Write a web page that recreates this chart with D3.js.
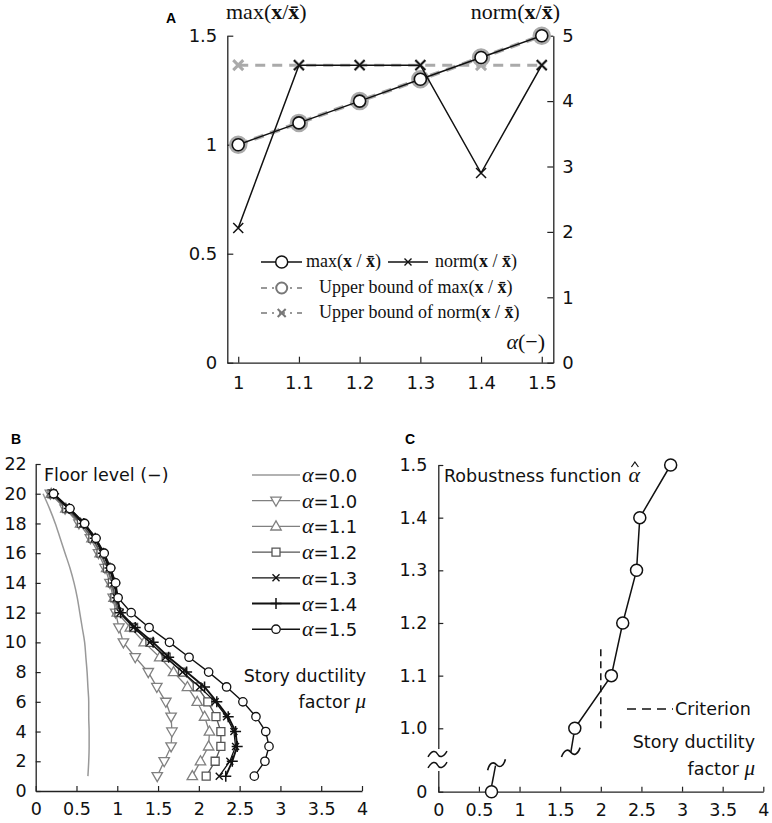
<!DOCTYPE html>
<html><head><meta charset="utf-8">
<script src="https://cdn.jsdelivr.net/npm/d3@7"></script>
<style>body{margin:0;background:#fff} svg{display:block}</style>
</head><body><svg id="c" width="772" height="823"></svg>
<script>
// ---------------- DATA ----------------
// Panel A
const alphaA = [1.0, 1.1, 1.2, 1.3, 1.4, 1.5];
const maxRatio = [1.0, 1.1, 1.2, 1.3, 1.4, 1.5];
const maxRatioUpper = [1.0, 1.1, 1.2, 1.3, 1.4, 1.5];
const normRatio = [2.06, 4.55, 4.55, 4.55, 2.9, 4.55];
const normRatioUpper = [4.55, 4.55, 4.55, 4.55, 4.55, 4.55];
const ticksALeft = [0, 0.5, 1, 1.5];
const ticksARight = [0, 1, 2, 3, 4, 5];
const ticksAX = [1, 1.1, 1.2, 1.3, 1.4, 1.5];

// Panel B (floor 1 .. 20)
const floors = [1,2,3,4,5,6,7,8,9,10,11,12,13,14,15,16,17,18,19,20];
const muA00 = [0.64,0.65,0.655,0.655,0.65,0.65,0.64,0.63,0.615,0.60,0.57,0.54,0.51,0.47,0.42,0.36,0.30,0.24,0.17,0.09];
const muA10 = [1.49,1.575,1.66,1.67,1.66,1.595,1.485,1.38,1.22,1.075,1.02,0.98,0.95,0.91,0.85,0.77,0.67,0.53,0.36,0.18];
const muA11 = [1.92,2.02,2.12,2.13,2.07,1.98,1.86,1.69,1.52,1.33,1.16,1.0,0.96,0.93,0.87,0.79,0.69,0.55,0.37,0.19];
const muA12 = [2.09,2.20,2.27,2.27,2.21,2.11,1.98,1.80,1.60,1.40,1.20,1.02,0.97,0.94,0.88,0.80,0.70,0.56,0.38,0.20];
const muA13 = [2.25,2.38,2.45,2.43,2.34,2.20,2.01,1.80,1.59,1.40,1.20,1.035,0.99,0.96,0.90,0.82,0.72,0.58,0.40,0.21];
const muA14 = [2.33,2.41,2.47,2.45,2.36,2.22,2.07,1.85,1.63,1.44,1.22,1.04,1.0,0.97,0.91,0.83,0.73,0.59,0.41,0.22];
const muA15 = [2.68,2.81,2.86,2.82,2.70,2.54,2.34,2.12,1.88,1.64,1.39,1.17,1.01,0.98,0.92,0.84,0.74,0.60,0.42,0.22];
const seriesLabelsB = ["0.0","1.0","1.1","1.2","1.3","1.4","1.5"];
const ticksBY = [0,2,4,6,8,10,12,14,16,18,20,22];
const ticksBX = [0,0.5,1,1.5,2,2.5,3,3.5,4];

// Panel C
const robustAlpha = [0, 1.0, 1.1, 1.2, 1.3, 1.4, 1.5];
const maxMu = [0.655, 1.68, 2.13, 2.27, 2.44, 2.48, 2.86];
const criterionMu = 2.0;
const criterionAlpha = [1.0, 1.15];
const ticksCY = [0, 1.0, 1.1, 1.2, 1.3, 1.4, 1.5];
const ticksCX = [0,0.5,1,1.5,2,2.5,3,3.5,4];

// ---------------- HELPERS ----------------
const svg = d3.select("#c");
const SANS = "DejaVu Sans, Verdana, sans-serif";
const SERIF = "Liberation Serif, Times New Roman, serif";
const AX = "#222";

function styleAxis(g, fs) {
  g.selectAll("path.domain").attr("stroke", AX).attr("stroke-width", 1.3);
  g.selectAll(".tick line").attr("stroke", AX).attr("stroke-width", 1.2);
  g.selectAll(".tick text").attr("fill", "#111").style("font-family", SANS).style("font-size", fs + "px");
}
const fmtG = d3.format("~g");

const mk = {
  x: a => `M${-a},${-a}L${a},${a}M${-a},${a}L${a},${-a}`,
  plus: a => `M${-a},0L${a},0M0,${-a}L0,${a}`,
  tri: a => `M0,${-a}L${a*0.95},${a*0.65}L${-a*0.95},${a*0.65}Z`,
  triDown: a => `M0,${a}L${a*0.95},${-a*0.65}L${-a*0.95},${-a*0.65}Z`,
  sq: a => `M${-a},${-a}H${a}V${a}H${-a}Z`,
  circle: a => `M${a},0A${a},${a} 0 1 1 ${-a},0A${a},${a} 0 1 1 ${a},0Z`
};

// rich serif label like max(x / x̄)
function richLabel(sel, x, y, fs, fn, spaced, anchor) {
  const t = sel.append("text").attr("x", x).attr("y", y)
    .style("font-family", SERIF).style("font-size", fs + "px").attr("fill", "#111")
    .attr("text-anchor", anchor || "start");
  const sp = spaced ? " / " : "/";
  t.append("tspan").text(fn + "(");
  t.append("tspan").attr("font-weight", "bold").text("x");
  t.append("tspan").text(sp);
  t.append("tspan").attr("font-weight", "bold").text("x\u0304");
  t.append("tspan").text(")");
  return t;
}

// ---------------- PANEL A ----------------
const xA = d3.scaleLinear().domain([0.982, 1.519]).range([227.3, 553.3]);
const yAL = d3.scaleLinear().domain([0, 1.5]).range([362.7, 35.7]);
const yAR = d3.scaleLinear().domain([0, 5]).range([362.7, 35.7]);
const gA = svg.append("g");

gA.append("g").attr("transform", "translate(227.3,0)")
  .call(d3.axisLeft(yAL).tickValues(ticksALeft).tickFormat(fmtG).tickSizeInner(-6).tickSizeOuter(0).tickPadding(10))
  .call(g => styleAxis(g, 18));
gA.append("g").attr("transform", "translate(553.3,0)")
  .call(d3.axisRight(yAR).tickValues(ticksARight).tickFormat(fmtG).tickSizeInner(-6).tickSizeOuter(0).tickPadding(9))
  .call(g => styleAxis(g, 18));
gA.append("g").attr("transform", "translate(0,362.7)")
  .call(d3.axisBottom(xA).tickValues(ticksAX).tickFormat(fmtG).tickSizeInner(-6).tickSizeOuter(0).tickPadding(14))
  .call(g => styleAxis(g, 18));

const dMax = alphaA.map((a, i) => [a, maxRatio[i]]);
const dMaxU = alphaA.map((a, i) => [a, maxRatioUpper[i]]);
const dNorm = alphaA.map((a, i) => [a, normRatio[i]]);
const dNormU = alphaA.map((a, i) => [a, normRatioUpper[i]]);
const lineAL = d3.line().x(d => xA(d[0])).y(d => yAL(d[1]));
const lineAR = d3.line().x(d => xA(d[0])).y(d => yAR(d[1]));

// upper bounds (gray)
gA.append("path").attr("d", lineAR(dNormU)).attr("fill", "none").attr("stroke", "#aaa")
  .attr("stroke-width", 3).attr("stroke-dasharray", "10,7");
gA.append("path").attr("d", lineAL(dMaxU)).attr("fill", "none").attr("stroke", "#aaa")
  .attr("stroke-width", 4).attr("stroke-dasharray", "10,7");
gA.selectAll(".nu").data(dNormU).join("path").attr("transform", d => `translate(${xA(d[0])},${yAR(d[1])})`)
  .attr("d", mk.x(5)).attr("stroke", "#aaa").attr("stroke-width", 3).attr("fill", "none");
gA.selectAll(".mu").data(dMaxU).join("path").attr("transform", d => `translate(${xA(d[0])},${yAL(d[1])})`)
  .attr("d", mk.circle(7.5)).attr("stroke", "#aaa").attr("stroke-width", 3.5).attr("fill", "none");

// black series
gA.append("path").attr("d", lineAR(dNorm)).attr("fill", "none").attr("stroke", "#111").attr("stroke-width", 1.5);
gA.append("path").attr("d", lineAL(dMax)).attr("fill", "none").attr("stroke", "#111").attr("stroke-width", 1.5);
gA.selectAll(".nm").data(dNorm).join("path").attr("transform", d => `translate(${xA(d[0])},${yAR(d[1])})`)
  .attr("d", mk.x(5)).attr("stroke", "#111").attr("stroke-width", 1.5).attr("fill", "none");
gA.selectAll(".mm").data(dMax).join("path").attr("transform", d => `translate(${xA(d[0])},${yAL(d[1])})`)
  .attr("d", mk.circle(6)).attr("stroke", "#111").attr("stroke-width", 1.6).attr("fill", "#fff");

// titles
svg.append("text").attr("x", 166).attr("y", 23).text("A").style("font-family", "Liberation Sans, Arial, sans-serif")
  .style("font-size", "14px").style("font-weight", "bold");
richLabel(svg, 226, 19, 22, "max", false);
richLabel(svg, 560, 19, 22, "norm", false, "end");
{
  const t = svg.append("text").attr("x", 545).attr("y", 349).attr("text-anchor", "end")
    .style("font-family", SERIF).style("font-size", "22px").attr("fill", "#111");
  t.append("tspan").style("font-style", "italic").text("α");
  t.append("tspan").text("(−)");
}
// legend A
{
  const L = svg.append("g");
  L.append("line").attr("x1", 261).attr("x2", 302).attr("y1", 262).attr("y2", 262).attr("stroke", "#111").attr("stroke-width", 1.5);
  L.append("path").attr("transform", "translate(281.7,262)").attr("d", mk.circle(6)).attr("stroke", "#111").attr("stroke-width", 1.5).attr("fill", "#fff");
  richLabel(L, 306, 267, 18, "max", true);
  L.append("line").attr("x1", 388).attr("x2", 428).attr("y1", 262).attr("y2", 262).attr("stroke", "#111").attr("stroke-width", 1.5);
  L.append("path").attr("transform", "translate(408,262)").attr("d", mk.x(3.5)).attr("stroke", "#111").attr("stroke-width", 1.4).attr("fill", "none");
  richLabel(L, 435, 267, 18, "norm", true);

  L.append("line").attr("x1", 261).attr("x2", 302).attr("y1", 288).attr("y2", 288).attr("stroke", "#777").attr("stroke-width", 1.5).attr("stroke-dasharray", "6,5,2,5");
  L.append("path").attr("transform", "translate(281.7,288)").attr("d", mk.circle(5.5)).attr("stroke", "#777").attr("stroke-width", 2).attr("fill", "#fff");
  const t2 = richLabel(L, 319, 293, 18, "max", true);
  t2.insert("tspan", ":first-child").text("Upper bound of ");
  L.append("line").attr("x1", 261).attr("x2", 302).attr("y1", 313).attr("y2", 313).attr("stroke", "#777").attr("stroke-width", 1.5).attr("stroke-dasharray", "6,5,2,5");
  L.append("path").attr("transform", "translate(281.7,313)").attr("d", mk.x(4)).attr("stroke", "#777").attr("stroke-width", 2).attr("fill", "none");
  const t3 = richLabel(L, 319, 318, 18, "norm", true);
  t3.insert("tspan", ":first-child").text("Upper bound of ");
}

// ---------------- PANEL B ----------------
const xB = d3.scaleLinear().domain([0, 4]).range([35.7, 362]);
const yB = d3.scaleLinear().domain([0, 22]).range([791, 464]);
const gB = svg.append("g");
gB.append("g").attr("transform", "translate(35.7,0)")
  .call(d3.axisLeft(yB).tickValues(ticksBY).tickFormat(fmtG).tickSizeInner(-5).tickSizeOuter(0).tickPadding(9))
  .call(g => styleAxis(g, 17.5));
gB.append("g").attr("transform", "translate(0,791)")
  .call(d3.axisBottom(xB).tickValues(ticksBX).tickFormat(fmtG).tickSizeInner(-5).tickSizeOuter(0).tickPadding(12))
  .call(g => styleAxis(g, 17.5));

const seriesB = [muA00, muA10, muA11, muA12, muA13, muA14, muA15];
const stylesB = [
  {c: "#999", w: 1.5, m: null},
  {c: "#808080", w: 1.3, m: mk.triDown(5.5), mw: 1.3},
  {c: "#808080", w: 1.3, m: mk.tri(5.5), mw: 1.3},
  {c: "#555", w: 1.3, m: mk.sq(4), mw: 1.3},
  {c: "#111", w: 1.3, m: mk.x(3.5), mw: 1.4},
  {c: "#111", w: 1.9, m: mk.plus(5.5), mw: 1.5},
  {c: "#111", w: 1.4, m: mk.circle(4.2), mw: 1.3}
];
const lineB = d3.line().x(d => xB(d[0])).y(d => yB(d[1]));
const lineBSmooth = d3.line().x(d => xB(d[0])).y(d => yB(d[1])).curve(d3.curveMonotoneY);
seriesB.forEach((s, k) => {
  const st = stylesB[k];
  const pts = floors.map((f, i) => [s[i], f]);
  gB.append("path").attr("d", (k === 0 ? lineBSmooth : lineB)(pts)).attr("fill", "none")
    .attr("stroke", st.c).attr("stroke-width", st.w);
  if (st.m) {
    gB.append("g").selectAll("path").data(pts).join("path")
      .attr("transform", d => `translate(${xB(d[0])},${yB(d[1])})`)
      .attr("d", st.m).attr("stroke", st.c).attr("stroke-width", st.mw)
      .attr("fill", k === 4 || k === 5 ? "none" : "#fff");
  }
});
svg.append("text").attr("x", 11).attr("y", 444).text("B").style("font-family", "Liberation Sans, Arial, sans-serif")
  .style("font-size", "14px").style("font-weight", "bold");
svg.append("text").attr("x", 44).attr("y", 481).text("Floor level (−)").style("font-family", SANS).style("font-size", "17.5px").attr("fill", "#111");
// legend B
seriesLabelsB.forEach((lab, k) => {
  const st = stylesB[k];
  const y = 475 + k * 25.7;
  svg.append("line").attr("x1", 252).attr("x2", 300).attr("y1", y).attr("y2", y).attr("stroke", st.c).attr("stroke-width", st.w);
  if (st.m) svg.append("path").attr("transform", `translate(276,${y})`).attr("d", st.m).attr("stroke", st.c)
    .attr("stroke-width", st.mw).attr("fill", k === 4 || k === 5 ? "none" : "#fff");
  const t = svg.append("text").attr("x", 302).attr("y", y + 7).attr("fill", "#111");
  t.append("tspan").style("font-family", SERIF).style("font-style", "italic").style("font-size", "22px").text("α");
  t.append("tspan").style("font-family", SANS).style("font-size", "18px").text("=" + lab);
});
function ductLabel(x, y1, y2) {
  svg.append("text").attr("x", x).attr("y", y1).attr("text-anchor", "end").text("Story ductility")
    .style("font-family", SANS).style("font-size", "17.5px").attr("fill", "#111");
  const t = svg.append("text").attr("x", x).attr("y", y2).attr("text-anchor", "end").attr("fill", "#111");
  t.append("tspan").style("font-family", SANS).style("font-size", "17.5px").text("factor ");
  t.append("tspan").style("font-family", SERIF).style("font-style", "italic").style("font-size", "21px").text("μ");
}
ductLabel(366, 682, 708);

// ---------------- PANEL C ----------------
const xC = d3.scaleLinear().domain([0, 4]).range([438.3, 763.3]);
const yC = d3.scaleLinear().domain([0, 1.0, 1.5]).range([791.7, 728.3, 465]);
const gC = svg.append("g");
gC.append("g").attr("transform", "translate(438.3,0)")
  .call(d3.axisLeft(yC).tickValues(ticksCY).tickFormat(d => d === 0 ? "0" : d3.format(".1f")(d))
    .tickSizeInner(-5).tickSizeOuter(0).tickPadding(11))
  .call(g => styleAxis(g, 17.5));
gC.append("g").attr("transform", "translate(0,791.7)")
  .call(d3.axisBottom(xC).tickValues(ticksCX).tickFormat(fmtG).tickSizeInner(-5).tickSizeOuter(0).tickPadding(12))
  .call(g => styleAxis(g, 17.5));

const ptsC = robustAlpha.map((a, i) => [maxMu[i], a]);
const lineC = d3.line().x(d => xC(d[0])).y(d => yC(d[1]));
gC.append("path").attr("d", lineC(ptsC.slice(1))).attr("fill", "none").attr("stroke", "#111").attr("stroke-width", 1.5);
// criterion
gC.append("line").attr("x1", xC(criterionMu)).attr("x2", xC(criterionMu))
  .attr("y1", yC(criterionAlpha[0])).attr("y2", yC(criterionAlpha[1]))
  .attr("stroke", "#111").attr("stroke-width", 1.5).attr("stroke-dasharray", "7,5");
// break stubs
const tilde = "M-10,3 C-6,-4 -2,-4 0,0 C2,4 6,4 10,-3";
{
  const p0 = [xC(ptsC[0][0]), yC(ptsC[0][1])];
  gC.append("line").attr("x1", p0[0]).attr("y1", p0[1] - 5).attr("x2", p0[0] + 4).attr("y2", p0[1] - 26)
    .attr("stroke", "#111").attr("stroke-width", 1.5);
  gC.append("path").attr("transform", `translate(${p0[0] + 5},${p0[1] - 27}) rotate(-15)`).attr("d", tilde)
    .attr("fill", "none").attr("stroke", "#111").attr("stroke-width", 1.6);
  const p1 = [xC(ptsC[1][0]), yC(ptsC[1][1])];
  gC.append("line").attr("x1", p1[0] - 1).attr("y1", p1[1] + 6).attr("x2", p1[0] - 4).attr("y2", p1[1] + 24)
    .attr("stroke", "#111").attr("stroke-width", 1.5);
  gC.append("path").attr("transform", `translate(${p1[0] - 4},${p1[1] + 24}) rotate(-10)`).attr("d", tilde)
    .attr("fill", "none").attr("stroke", "#111").attr("stroke-width", 1.6);
  // axis break ≈
  gC.append("rect").attr("x", 432).attr("y", 749).attr("width", 13).attr("height", 22).attr("fill", "#fff");
  gC.append("path").attr("transform", "translate(437.5,754) scale(0.95)").attr("d", tilde).attr("fill", "none").attr("stroke", "#111").attr("stroke-width", 1.6);
  gC.append("path").attr("transform", "translate(437.5,765) scale(0.95)").attr("d", tilde).attr("fill", "none").attr("stroke", "#111").attr("stroke-width", 1.6);
}
gC.selectAll(".pc").data(ptsC).join("path").attr("transform", d => `translate(${xC(d[0])},${yC(d[1])})`)
  .attr("d", mk.circle(6)).attr("stroke", "#111").attr("stroke-width", 1.5).attr("fill", "#fff");

svg.append("text").attr("x", 405).attr("y", 444).text("C").style("font-family", "Liberation Sans, Arial, sans-serif")
  .style("font-size", "14px").style("font-weight", "bold");
{
  const t = svg.append("text").attr("x", 444).attr("y", 482).text("Robustness function")
    .style("font-family", SANS).style("font-size", "17.5px").attr("fill", "#111");
  const w = t.node().getComputedTextLength();
  const ax = 444 + w + 7;
  svg.append("text").attr("x", ax).attr("y", 482).text("α").style("font-family", SERIF).style("font-style", "italic")
    .style("font-size", "22px").attr("fill", "#111");
  svg.append("path").attr("d", `M${ax + 3},467 L${ax + 6.5},462 L${ax + 10},467`).attr("fill", "none").attr("stroke", "#111").attr("stroke-width", 1.2);
}
// criterion legend
svg.append("line").attr("x1", 627).attr("x2", 673).attr("y1", 709).attr("y2", 709).attr("stroke", "#111").attr("stroke-width", 1.5).attr("stroke-dasharray", "9,6");
svg.append("text").attr("x", 675).attr("y", 715).text("Criterion").style("font-family", SANS).style("font-size", "17.5px").attr("fill", "#111");
ductLabel(755, 748, 775);
</script></body></html>
